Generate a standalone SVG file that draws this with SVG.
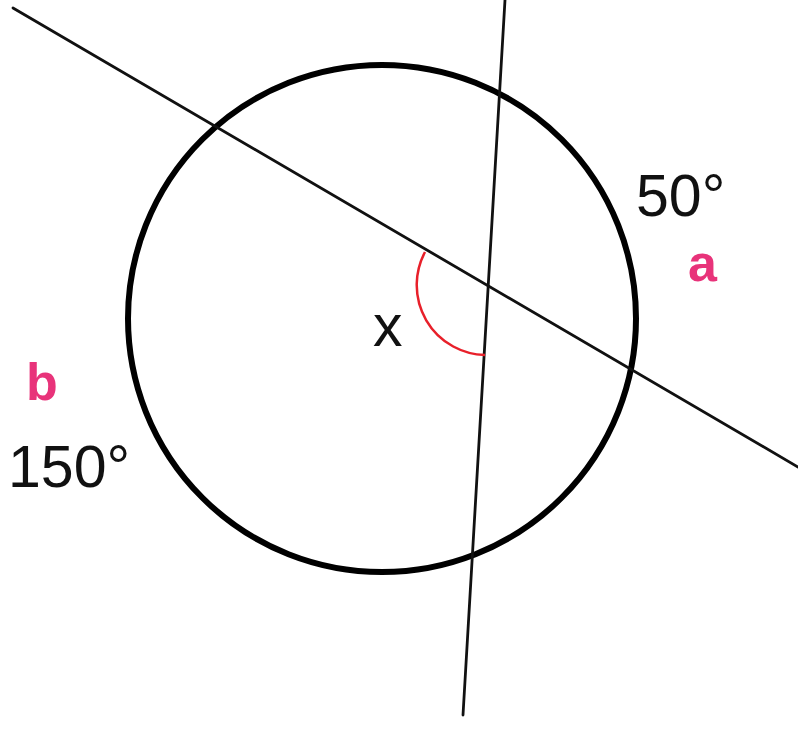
<svg xmlns="http://www.w3.org/2000/svg" width="798" height="734" viewBox="0 0 798 734">
<style>
.ln{stroke:#111;stroke-width:2.8;fill:none;stroke-linecap:round}
.lbl{font-family:"Liberation Sans",Arial,sans-serif;font-size:59px;fill:#111}
.pk{font-family:"Liberation Sans",Arial,sans-serif;font-size:52px;fill:#e8337a;font-weight:bold}
</style>
<rect width="798" height="734" fill="#fff"/>
<g id="circle"><ellipse cx="382" cy="318.5" rx="254" ry="253.5" fill="none" stroke="#000" stroke-width="6"/></g>
<g id="connectors">
<line class="ln" x1="13" y1="8" x2="798" y2="467"/>
<line class="ln" x1="505" y1="0" x2="463" y2="715"/>
</g>
<g id="angle-x"><path d="M425,252 A70,70 0 0 0 485,355" fill="none" stroke="#e8202a" stroke-width="2.5"/></g>
<g id="labels">
<text class="lbl" x="373" y="346">x</text>
<text class="lbl" x="636" y="216">50°</text>
<text class="lbl" x="8" y="487">150°</text>
<text class="pk" x="688" y="281">a</text>
<text class="pk" x="26" y="400">b</text>
</g>
</svg>
